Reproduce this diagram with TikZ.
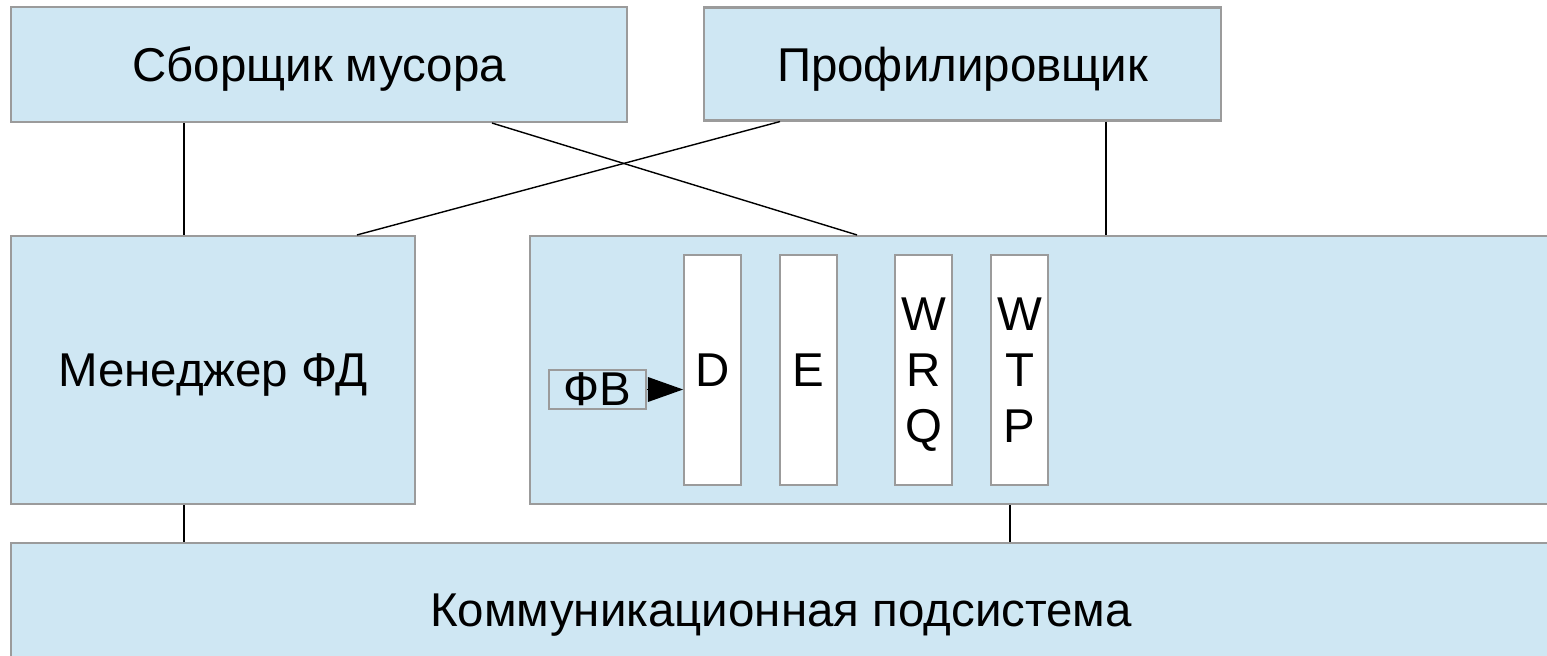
\documentclass[tikz,border=0pt]{standalone}
\usepackage{fontspec}
\setmainfont{Liberation Sans}
\usetikzlibrary{arrows.meta,positioning,calc}
\definecolor{bleupale}{RGB}{207,231,243}
\definecolor{bordgris}{RGB}{155,155,155}
\tikzset{
  bloc/.style={draw=bordgris,fill=bleupale,line width=0.6pt,inner sep=0pt,
               text depth=0pt,font=\fontsize{13.5}{16}\selectfont},
  colonne/.style={draw=bordgris,fill=white,line width=0.5pt,inner sep=0pt,
                  minimum width=5.7mm,minimum height=23mm,align=center,
                  font=\fontsize{13.5}{16}\selectfont},
  lien/.style={black,line width=0.4pt}
}
% one white column inside the kernel box
\newcommand{\colonne}[4][]{%
  \node[colonne,#1] (#2) at (#3,370) {#4};}

\begin{document}
\begin{tikzpicture}[x=0.1mm,y=-0.1mm]
  \useasboundingbox (0,0) rectangle (1547,655);
  \clip (0,0) rectangle (1547,655);
  % boxes
  \node[bloc,minimum width=61.6mm,minimum height=11.5mm] (gc) at (319,64.5) {Сборщик мусора};
  \node[bloc,minimum width=51.7mm,minimum height=11.3mm] (prof) at (962.5,64) {Профилировщик};
  \node[bloc,minimum width=40.4mm,minimum height=26.8mm] (fdm) at (213,370) {Менеджер ФД};
  \node[bloc,minimum width=102.1mm,minimum height=26.8mm] (noyau) at (1040.5,370) {};
  \node[bloc,minimum width=154mm,minimum height=13.4mm] (comm) at (781,610) {Коммуникационная подсистема};
  % columns
  \colonne{cD}{712.5}{D}
  \colonne{cE}{808.5}{E}
  \colonne[text depth=-4pt]{cWRQ}{923.5}{W\\R\\Q}
  \colonne[text depth=-4pt]{cWTP}{1019.5}{W\\T\\P}
  \node[bloc,minimum width=9.7mm,minimum height=3.9mm] (fv) at (597.5,389.5) {ФВ};
  \draw[lien,-{Triangle[length=10pt,width=7pt]}] (fv.east) -- (cD.west |- fv.east);
  % x positions of the links
  \coordinate (xa) at (184,0);
  \coordinate (xb) at (492,0);
  \coordinate (xc) at (857,0);
  \coordinate (xd) at (780,0);
  \coordinate (xe) at (357,0);
  \coordinate (xf) at (1106,0);
  \coordinate (xg) at (1010,0);
  % links
  \draw[lien] (gc.south -| xa) -- (fdm.north -| xa);
  \draw[lien] (gc.south -| xb) -- (noyau.north -| xc);
  \draw[lien] (prof.south -| xd) -- (fdm.north -| xe);
  \draw[lien] (prof.south -| xf) -- (noyau.north -| xf);
  \draw[lien] (fdm.south -| xa) -- (comm.north -| xa);
  \draw[lien] (noyau.south -| xg) -- (comm.north -| xg);
\end{tikzpicture}
\end{document}
